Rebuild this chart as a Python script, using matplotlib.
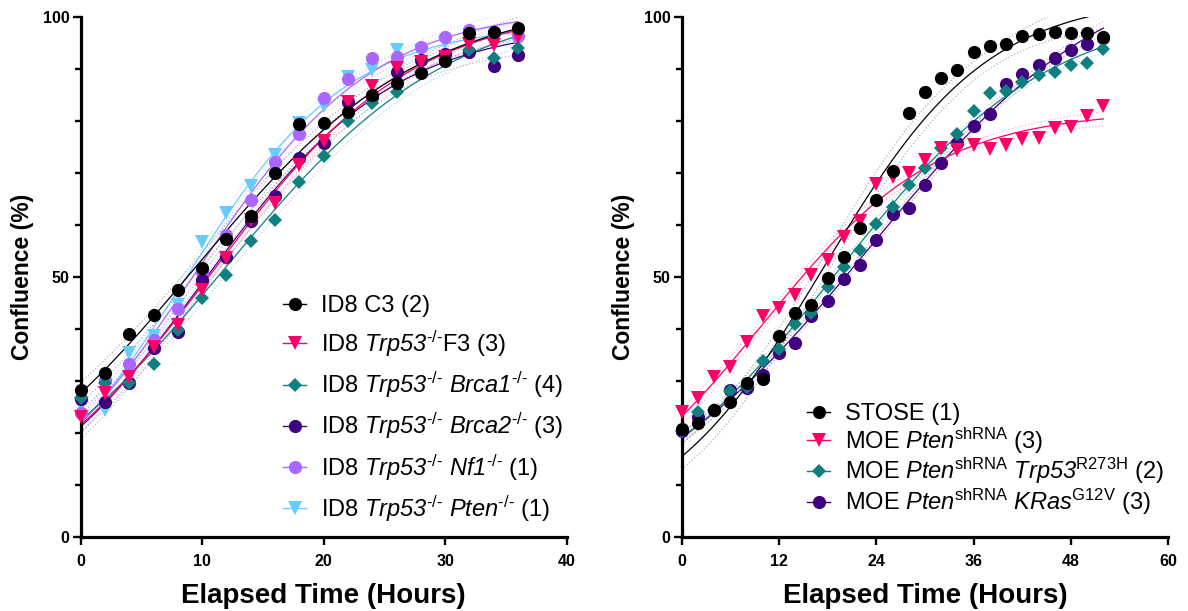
import numpy as np
import matplotlib
matplotlib.use("Agg")
import matplotlib.pyplot as plt
from matplotlib.ticker import MultipleLocator
from matplotlib.lines import Line2D

plt.rcParams['font.family'] = ['Liberation Sans', 'DejaVu Sans']
plt.rcParams['mathtext.fontset'] = 'custom'
plt.rcParams['mathtext.rm'] = 'Liberation Sans'
plt.rcParams['mathtext.it'] = 'Liberation Sans:italic'
plt.rcParams['mathtext.sf'] = 'Liberation Sans:italic'  # italic gene names incl. digits
plt.rcParams['mathtext.bf'] = 'Liberation Sans:bold'

# ---- left panel: ID8 lines, confluence (%) every 2 h ----
hours_id8 = [0, 2, 4, 6, 8, 10, 12, 14, 16, 18, 20, 22, 24, 26, 28, 30, 32, 34, 36]
id8_c3 = [28.3, 31.5, 39.0, 42.7, 47.5, 51.8, 57.3, 61.8, 70.0, 79.4, 79.6, 81.7,
          85.1, 87.3, 89.3, 91.5, 96.9, 97.2, 97.8]
id8_f3 = [23.2, 27.8, 30.9, 36.6, 40.8, 47.5, 53.6, 61.0, 64.2, 71.6, 76.2, 83.6,
          86.8, 90.1, 91.4, 92.4, 94.8, 94.6, 96.2]
id8_brca1 = [26.7, 29.6, 29.6, 33.4, 39.9, 45.9, 50.5, 57.0, 61.0, 68.3, 73.3, 80.0,
             83.4, 85.6, 89.5, 92.0, 93.7, 92.2, 94.0]
id8_brca2 = [26.5, 26.1, 29.6, 36.3, 39.5, 49.5, 53.9, 60.8, 65.5, 72.9, 75.7, 83.6,
             84.7, 89.5, 91.7, 92.8, 93.3, 90.6, 92.6]
id8_nf1 = [23.8, 30.2, 33.4, 37.9, 43.8, 51.0, 58.1, 64.8, 72.2, 77.5, 84.4, 88.1,
           92.2, 92.4, 94.3, 96.2, 97.5, 96.9, 96.4]
id8_pten = [25.5, 24.5, 35.4, 38.6, 44.7, 56.8, 62.3, 67.5, 73.4, 79.7, 82.8, 88.5,
            89.8, 93.7, 93.5, 95.0, 96.5, 95.3, 95.3]

# ---- right panel: mouse OSE lines ----
hours_moe = [0, 2, 4, 6, 8, 10, 12, 14, 16, 18, 20, 22, 24, 26, 28, 30, 32, 34, 36,
             38, 40, 42, 44, 46, 48, 50, 52]
stose = [20.8, 21.9, 24.5, 26.1, 29.6, 30.4, 38.7, 43.2, 44.6, 49.8, 53.9, 59.4, 64.8,
         70.4, 81.5, 85.5, 88.2, 89.9, 93.2, 94.5, 94.9, 96.4, 96.7, 97.2, 97.0, 97.0, 96.1]
moe_pten = [24.0, 26.7, 30.9, 32.7, 37.6, 42.5, 44.1, 46.6, 50.4, 53.3, 57.7, 60.7, 67.9,
            69.3, 70.0, 72.5, 74.8, 74.4, 75.4, 74.6, 75.4, 76.6, 76.7, 78.6, 78.9, 81.0, 82.8]
moe_trp53 = [20.5, 24.0, 24.5, 28.2, 28.9, 33.8, 36.1, 41.0, 43.1, 48.2, 51.9, 55.2, 60.2,
             63.5, 67.7, 70.9, 74.9, 77.5, 81.9, 85.3, 85.8, 87.6, 88.9, 89.5, 90.8, 91.2, 93.8]
moe_kras = [20.5, 23.1, 24.5, 28.3, 28.6, 31.2, 35.4, 37.3, 42.5, 45.5, 49.6, 52.3, 57.1,
            62.1, 63.2, 67.8, 72.0, 75.7, 79.1, 81.3, 87.1, 89.0, 90.8, 92.2, 93.7, 94.9, 96.0]

BLACK, PINK, TEAL, PURPLE = '#000000', '#FF0066', '#0F7F7F', '#40007F'
LILAC, SKY = '#AA66FF', '#66CCFF'

KO = r'^{\text{-/-}}'
left_groups = [
    ('ID8 C3 (2)', id8_c3, BLACK, 'o'),
    (r'ID8 $\mathsf{Trp53}' + KO + r'$F3 (3)', id8_f3, PINK, 'v'),
    (r'ID8 $\mathsf{Trp53}' + KO + r'$ $\mathsf{Brca1}' + KO + r'$ (4)', id8_brca1, TEAL, 'D'),
    (r'ID8 $\mathsf{Trp53}' + KO + r'$ $\mathsf{Brca2}' + KO + r'$ (3)', id8_brca2, PURPLE, 'o'),
    (r'ID8 $\mathsf{Trp53}' + KO + r'$ $\mathsf{Nf1}' + KO + r'$ (1)', id8_nf1, LILAC, 'o'),
    (r'ID8 $\mathsf{Trp53}' + KO + r'$ $\mathsf{Pten}' + KO + r'$ (1)', id8_pten, SKY, 'v'),
]
right_groups = [
    ('STOSE (1)', stose, BLACK, 'o'),
    (r'MOE $\mathsf{Pten}^{\mathrm{shRNA}}$ (3)', moe_pten, PINK, 'v'),
    (r'MOE $\mathsf{Pten}^{\mathrm{shRNA}}$ $\mathsf{Trp53}^{\mathrm{R273H}}$ (2)', moe_trp53, TEAL, 'D'),
    (r'MOE $\mathsf{Pten}^{\mathrm{shRNA}}$ $\mathsf{KRas}^{\mathrm{G12V}}$ (3)', moe_kras, PURPLE, 'o'),
]
MSIZE = {'o': 9.5, 'v': 10, 'D': 7.5}


def logistic(t, p):
    ym, k, t0 = p
    return ym / (1 + np.exp(-k * (t - t0)))


def jacobian(t, p):
    ym, k, t0 = p
    s = 1 / (1 + np.exp(-k * (t - t0)))
    return np.column_stack([s, ym * s * (1 - s) * (t - t0), -ym * k * s * (1 - s)])


def fit_growth(t, y):
    """logistic growth fit + 95% confidence band"""
    t = np.asarray(t, float)
    y = np.asarray(y, float)
    best = None
    for k in np.linspace(0.02, 0.4, 77):
        for t0 in np.linspace(-10, 60, 141):
            s = 1 / (1 + np.exp(-k * (t - t0)))
            ym = s @ y / (s @ s)
            sse = np.sum((y - ym * s) ** 2)
            if best is None or sse < best[0]:
                best = (sse, np.array([ym, k, t0]))
    sse, p = best
    lam = 1e-3
    for _ in range(100):
        J = jacobian(t, p)
        r = y - logistic(t, p)
        A = J.T @ J
        step = np.linalg.solve(A + lam * np.diag(np.diag(A)), J.T @ r)
        new = np.sum((y - logistic(t, p + step)) ** 2)
        if new < sse:
            p, sse, lam = p + step, new, lam * 0.3
        else:
            lam *= 10
    J = jacobian(t, p)
    cov = sse / (len(t) - 3) * np.linalg.inv(J.T @ J)
    tt = np.linspace(t[0], t[-1], 300)
    Jt = jacobian(tt, p)
    se = np.sqrt(np.sum((Jt @ cov) * Jt, axis=1))
    yy = logistic(tt, p)
    return tt, yy, yy - 2.05 * se, yy + 2.05 * se


def draw_panel(ax, hours, groups, xmax, xstep):
    for label, vals, color, marker in reversed(groups):
        tt, yy, lo, hi = fit_growth(hours, vals)
        ax.plot(tt, lo, ':', color=color, lw=0.9, alpha=0.3, zorder=1)
        ax.plot(tt, hi, ':', color=color, lw=0.9, alpha=0.3, zorder=1)
        ax.plot(tt, yy, '-', color=color, lw=0.9, zorder=2)
        ax.plot(hours, vals, linestyle='none', marker=marker, ms=MSIZE[marker],
                color=color, mew=0, clip_on=False, zorder=3)

    ax.set_xlim(0, xmax)
    ax.set_ylim(0, 100)
    ax.xaxis.set_major_locator(MultipleLocator(xstep))
    ax.yaxis.set_major_locator(MultipleLocator(50))
    ax.yaxis.set_minor_locator(MultipleLocator(10))
    for side in ['top', 'right']:
        ax.spines[side].set_visible(False)
    for side in ['left', 'bottom']:
        ax.spines[side].set_linewidth(2.3)
    ax.tick_params(which='major', length=6, width=1.7, direction='out',
                   labelsize=11.5)
    ax.tick_params(axis='y', which='major', pad=2)
    ax.tick_params(axis='x', which='major', pad=6)
    ax.tick_params(which='minor', length=4, width=1.7, direction='out')
    for lab in ax.get_xticklabels() + ax.get_yticklabels():
        lab.set_fontweight('bold')
    ax.set_xlabel('Elapsed Time (Hours)', fontsize=20, fontweight='bold', labelpad=10)
    ax.set_ylabel('Confluence (%)', fontsize=16.5, fontweight='bold', labelpad=6)

    handles = [Line2D([], [], color=c, lw=1, marker=m, ms=MSIZE[m], mew=0)
               for _, _, c, m in groups]
    return handles


fig = plt.figure(figsize=(11.88, 6.11), dpi=100)
ax1 = fig.add_axes([0.0679, 0.1206, 0.4091, 0.8516])
ax2 = fig.add_axes([0.5738, 0.1206, 0.4096, 0.8516])

h1 = draw_panel(ax1, hours_id8, left_groups, 40, 10)
ax1.legend(h1, [g[0] for g in left_groups], loc='upper left',
           bbox_to_anchor=(0.416, 0.465), frameon=False, fontsize=17,
           handlelength=1.0, handletextpad=0.6, labelspacing=0.47,
           borderpad=0, borderaxespad=0)

h2 = draw_panel(ax2, hours_moe, right_groups, 60, 12)
ax2.legend(h2, [g[0] for g in right_groups], loc='upper left',
           bbox_to_anchor=(0.257, 0.258), frameon=False, fontsize=17,
           handlelength=1.0, handletextpad=0.6, labelspacing=0.02,
           borderpad=0, borderaxespad=0)

fig.savefig('out.png', dpi=100)
